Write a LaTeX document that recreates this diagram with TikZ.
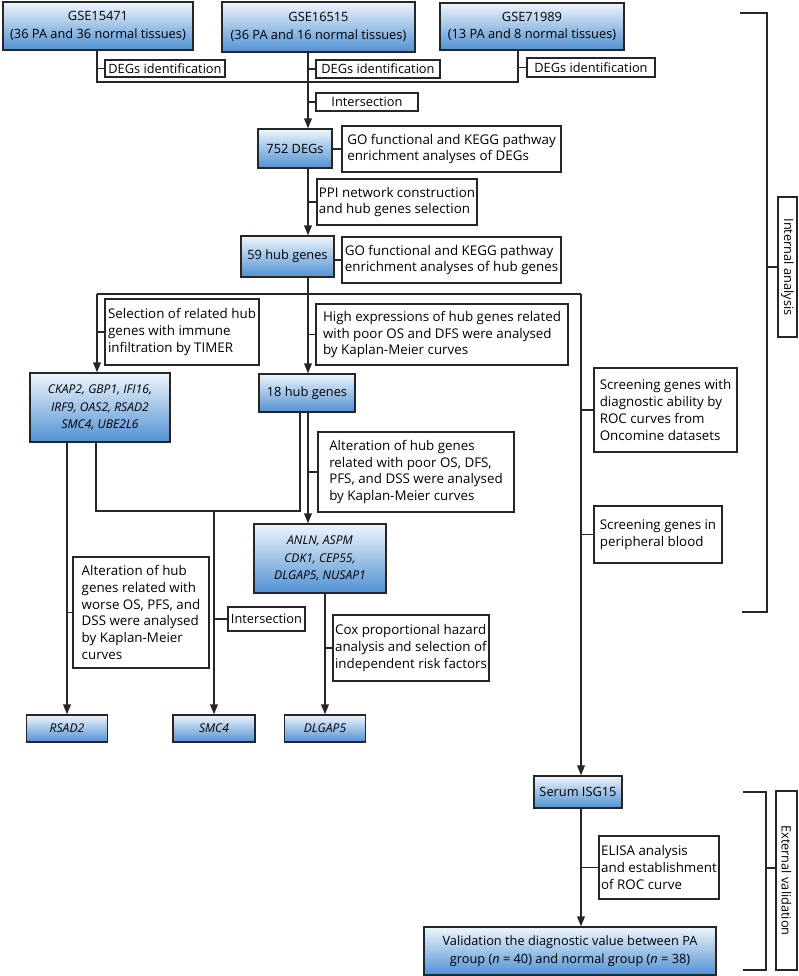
\documentclass[tikz,border=0pt]{standalone}
\usepackage{fontspec}
\setmainfont{Open Sans}
\usepackage{xcolor}
\usepackage{tikz}
\usetikzlibrary{arrows.meta}
\usetikzlibrary{calc}

\definecolor{boxtop}{RGB}{238,245,252}
\definecolor{boxblue}{RGB}{80,145,210}

\begin{document}
\begin{tikzpicture}[x=0.025cm, y=-0.025cm]

% Define styles
\tikzset{
    bluebox/.style={draw=black!85, line width=1pt, top color=boxtop, bottom color=boxblue, align=center, inner sep=1pt, font=\fontsize{9.1}{12.4}\selectfont},
    genebox/.style={bluebox, font=\fontsize{8.6}{12.4}\selectfont\itshape},
    note/.style={draw=black!85, line width=0.8pt, fill=white, align=left, inner sep=1pt, font=\fontsize{9.5}{12}\selectfont},
    tag/.style={draw=black!85, line width=0.8pt, fill=white, align=center, inner sep=1pt, font=\fontsize{9.1}{12}\selectfont},
    link/.style={line width=0.8pt, draw=black!85},
    flow/.style={link, -{Triangle[length=7pt, width=5.5pt]}}
}

\useasboundingbox (0,0) rectangle (798,976);

% datasets
\node[bluebox, minimum width=4.75cm, minimum height=1.2cm] (g15) at (98,26) {GSE15471\\(36 PA and 36 normal tissues)};
\node[bluebox, minimum width=4.825cm, minimum height=1.25cm] (g16) at (318.5,27) {GSE16515\\(36 PA and 16 normal tissues)};
\node[bluebox, minimum width=4.6cm, minimum height=1.175cm] (g71) at (532,26.5) {GSE71989\\(13 PA and 8 normal tissues)};

% junction points of the trunk lines
\coordinate (mergeL) at (97,82);
\coordinate (merge) at (308,82);
\coordinate (mergeR) at (518,82);
\coordinate (splitL) at (97,294);
\coordinate (split) at (308,294);
\coordinate (splitR) at (581,294);
\coordinate (joinL) at (96,511);
\coordinate (join) at (214,511);
\coordinate (joinR) at (300,511);

% DEGs identification
\node[tag, minimum width=3.0cm, minimum height=0.425cm] (deg1) at (165,68.5) {DEGs identification};
\node[tag, minimum width=3.1cm, minimum height=0.45cm] (deg2) at (378,69) {DEGs identification};
\node[tag, minimum width=3.2cm, minimum height=0.475cm] (deg3) at (591,67.5) {DEGs identification};
\node[tag, minimum width=2.55cm, minimum height=0.45cm] (int1) at (367,102) {Intersection};

\draw[link] (g15.south -| mergeL) -- (mergeL) -- (mergeR) -- (g71.south -| mergeR);
\draw[link] (deg1.west) -- (deg1.west -| mergeL);
\draw[link] (deg2.west) -- (deg2.west -| merge);
\draw[link] (deg3.west) -- (deg3.west -| mergeR);
\draw[link] (int1.west) -- (int1.west -| merge);

% 752 DEGs
\node[bluebox, minimum width=1.85cm, minimum height=0.975cm] (degs) at (295,148.5) {752 DEGs};
\node[note, minimum width=5.475cm, minimum height=1.15cm] (go1) at (451.5,149) {GO functional and KEGG pathway\\enrichment analyses of DEGs};
\draw[flow] (g16.south -| merge) -- (degs.north -| merge);
\draw[link] (go1.west) -- (go1.west -| degs.east);

% 59 hub genes
\node[note, minimum width=4.0cm, minimum height=1.15cm] (ppi) at (397,202) {PPI network construction\\and hub genes selection};
\node[bluebox, minimum width=2.325cm, minimum height=1.025cm] (hub59) at (287.5,256.5) {59 hub genes};
\node[note, minimum width=5.475cm, minimum height=1.15cm] (go2) at (451.5,260) {GO functional and KEGG pathway\\enrichment analyses of hub genes};
\draw[flow] (degs.south -| merge) -- (hub59.north -| merge);
\draw[link] (ppi.west) -- (ppi.west -| merge);
\draw[link] (go2.west) -- (go2.west -| hub59.east);

% three branches
\draw[link] (hub59.south -| split) -- (split);
\draw[link] (splitL) -- (splitR);
\node[note, minimum width=3.85cm, minimum height=1.65cm] (timer) at (182,332) {Selection of related hub\\genes with immune\\infiltration by TIMER};
\node[note, minimum width=6.3cm, minimum height=1.525cm] (km1) at (442,334.5) {High expressions of hub genes related\\with poor OS and DFS were analysed\\by Kaplan-Meier curves};
\node[genebox, minimum width=3.5cm, minimum height=1.725cm] (imm) at (100,407.5) {CKAP2, GBP1, IFI16,\\IRF9, OAS2, RSAD2\\SMC4, UBE2L6};
\node[bluebox, minimum width=2.4cm, minimum height=0.95cm] (hub18) at (307,393) {18 hub genes};
\draw[flow] (splitL) -- (imm.north -| splitL);
\draw[flow] (split) -- (hub18.north -| split);
\draw[link] (timer.west) -- (timer.west -| splitL);
\draw[link] (km1.west) -- (km1.west -| split);

% screening side
\node[note, minimum width=3.575cm, minimum height=2.1cm] (roc) at (665.5,410) {Screening genes with\\diagnostic ability by\\ROC curves from\\Oncomine datasets};
\node[note, minimum width=3.2cm, minimum height=1.425cm] (blood) at (658,534.5) {Screening genes in\\peripheral blood};
\draw[link] (roc.west) -- (roc.west -| splitR);
\draw[link] (blood.west) -- (blood.west -| splitR);

% survival analyses
\node[note, minimum width=4.9cm, minimum height=2.0cm] (km2) at (416,472) {Alteration of hub genes\\related with poor OS, DFS,\\PFS, and DSS were analysed\\by Kaplan-Meier curves};
\node[genebox, minimum width=3.3cm, minimum height=1.725cm] (anln) at (320,558.5) {ANLN, ASPM\\CDK1, CEP55,\\DLGAP5, NUSAP1};
\draw[flow] (hub18.south -| split) -- (anln.north -| split);
\draw[link] (km2.west) -- (km2.west -| split);

\node[note, minimum width=3.4cm, minimum height=2.775cm] (km3) at (141,612.5) {Alteration of hub\\genes related with\\worse OS, PFS, and\\DSS were analysed\\by Kaplan-Meier\\curves};
\node[tag, minimum width=1.925cm, minimum height=0.6cm] (int2) at (266.5,619) {Intersection};
\node[note, minimum width=3.9cm, minimum height=1.65cm] (cox) at (411,648) {Cox proportional hazard\\analysis and selection of\\independent risk factors};

% final genes
\node[genebox, minimum width=2.025cm, minimum height=0.675cm] (rsad2) at (67,728.5) {RSAD2};
\node[genebox, minimum width=2.05cm, minimum height=0.675cm] (smc4) at (214,728.5) {SMC4};
\node[genebox, minimum width=2.025cm, minimum height=0.675cm] (dlgap5) at (325,728.5) {DLGAP5};

\draw[flow] (imm.south -| rsad2.north) -- (rsad2.north);
\draw[link] (imm.south -| joinL) -- (joinL) -- (joinR) -- (hub18.south -| joinR);
\draw[flow] (join) -- (smc4.north -| join);
\draw[flow] (anln.south -| dlgap5.north) -- (dlgap5.north);
\draw[link] (km3.west) -- (km3.west -| rsad2.north);
\draw[link] (int2.west) -- (int2.west -| join);
\draw[link] (cox.west) -- (cox.west -| dlgap5.north);

% serum validation
\node[bluebox, minimum width=2.2cm, minimum height=0.8cm] (isg15) at (578,792) {Serum ISG15};
\node[note, minimum width=3.0cm, minimum height=1.575cm] (elisa) at (659,867.5) {ELISA analysis\\and establishment\\of ROC curve};
\node[bluebox, minimum width=7.3cm, minimum height=1.2cm] (valid) at (570,951) {Validation the diagnostic value between PA\\group (\textit{n} = 40) and normal group (\textit{n} = 38)};
\draw[flow] (splitR) -- (isg15.north -| splitR);
\draw[flow] (isg15.south -| splitR) -- (valid.north -| splitR);
\draw[link] (elisa.west) -- (elisa.west -| splitR);

% brackets on the right
\coordinate (inTop) at (740,13);
\coordinate (inBot) at (742,612);
\coordinate (inMid) at (767,267);
\coordinate (exTop) at (743,792);
\coordinate (exBot) at (743,970);
\coordinate (exMid) at (766,868);
\node[tag, rotate=-90, minimum width=3.5cm, minimum height=0.475cm] (inbox) at (787.5,267) {Internal analysis};
\node[tag, rotate=-90, minimum width=4.475cm, minimum height=0.525cm] (exbox) at (786.5,880.5) {External validation};
\draw[link] (inTop) -- (inTop -| inMid) -- (inBot -| inMid) -- (inBot);
\draw[link] (inMid) -- (inbox.south);
\draw[link] (exTop) -- (exTop -| exMid) -- (exBot -| exMid) -- (exBot);
\draw[link] (exMid) -- (exMid -| exbox.south);

\end{tikzpicture}
\end{document}
